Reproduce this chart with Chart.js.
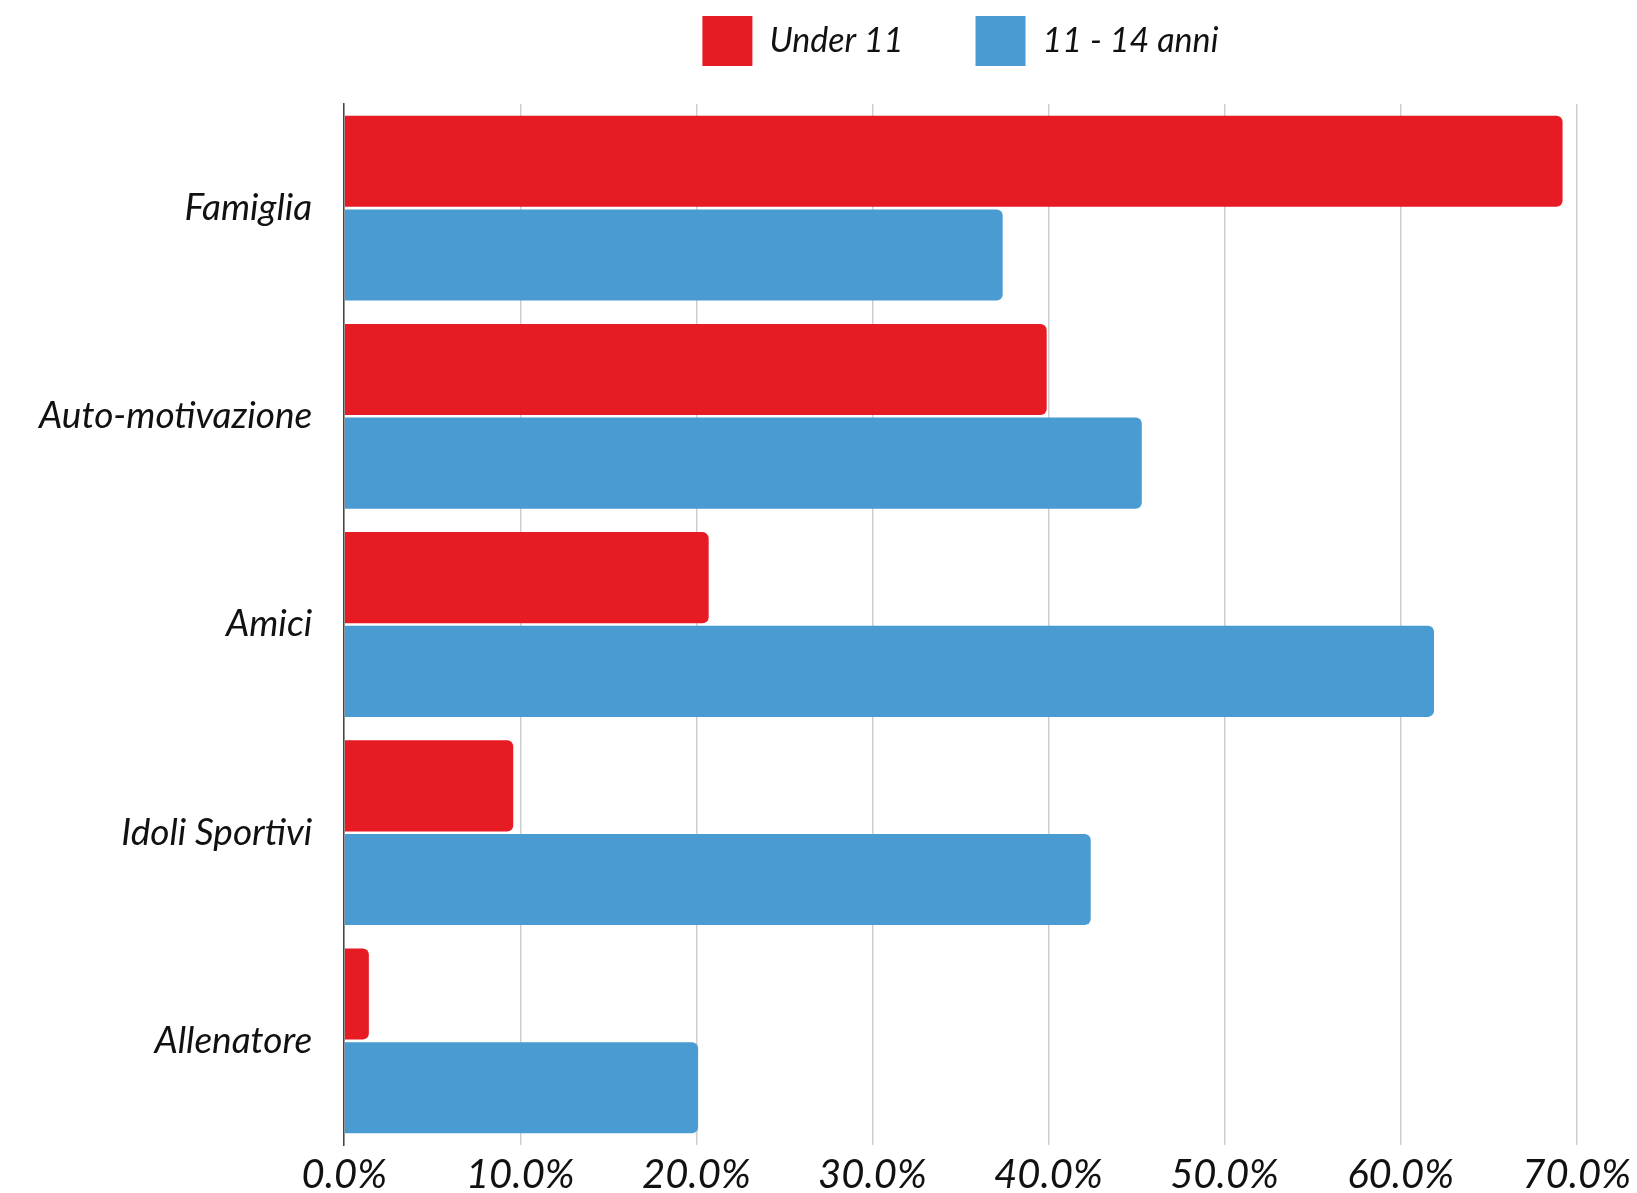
<!DOCTYPE html>
<html>
<head>
<meta charset="utf-8">
<script src="https://cdn.jsdelivr.net/npm/chart.js@4.4.1/dist/chart.umd.min.js"></script>
<style>
  html, body { margin: 0; padding: 0; background: #fff; }
  #wrap { width: 1637px; height: 1193px; position: relative; }
</style>
</head>
<body>
<div id="wrap"><canvas id="myChart"></canvas></div>
<script>
const categories = ["Famiglia", "Auto-motivazione", "Amici", "Idoli Sportivi", "Allenatore"];
const under11 = [69.2, 39.9, 20.7, 9.6, 1.4];
const anni11_14 = [37.4, 45.3, 61.9, 42.4, 20.1];
const xTicks = [0, 10, 20, 30, 40, 50, 60, 70];

const font = "Lato";

const ctx = document.getElementById("myChart");

// extra room between legend and plot
const legendGap = {
  id: "legendGap",
  beforeInit(chart) {
    const fit = chart.legend.fit;
    chart.legend.fit = function () {
      fit.call(this);
      this.height += 28;
    };
  },
};

const data = {
  labels: categories,
  datasets: [
    {
      label: "Under 11",
      backgroundColor: "#E61B23",
      data: under11,
      borderRadius: 6,
      categoryPercentage: 0.9,
      barPercentage: 0.972,
    },
    {
      label: "11 - 14 anni",
      backgroundColor: "#4A9BD1",
      data: anni11_14,
      borderRadius: 6,
      categoryPercentage: 0.9,
      barPercentage: 0.972,
    },
  ],
};

const myChart = new Chart(ctx, {
  type: "bar",
  data,
  plugins: [legendGap],
  options: {
    indexAxis: "y",
    responsive: true,
    maintainAspectRatio: false,
    animation: false,
    layout: { padding: { left: 15, right: -25, top: -56, bottom: -12 } },
    plugins: {
      tooltip: { enabled: false },
      legend: {
        position: "top",
        fullSize: false,
        labels: {
          boxWidth: 50,
          boxHeight: 50,
          padding: 72,
          color: "#111",
          font: { family: font, style: "italic", size: 34 },
        },
      },
    },
    scales: {
      x: {
        min: 0,
        max: 70,
        afterBuildTicks: (axis) => { axis.ticks = xTicks.map((v) => ({ value: v })); },
        grid: { color: "#cfcfcf", lineWidth: 1.5, drawTicks: false },
        border: { display: false },
        ticks: {
          padding: 6,
          color: "#111",
          font: { family: font, style: "italic", size: 40 },
          callback: (v) => Number(v).toFixed(1) + "%",
        },
      },
      y: {
        grid: { display: false },
        border: { display: true, color: "#444", width: 1.5 },
        ticks: {
          padding: 24,
          color: "#111",
          font: { family: font, style: "italic", size: 37 },
        },
      },
    },
  },
});
</script>
</body>
</html>
